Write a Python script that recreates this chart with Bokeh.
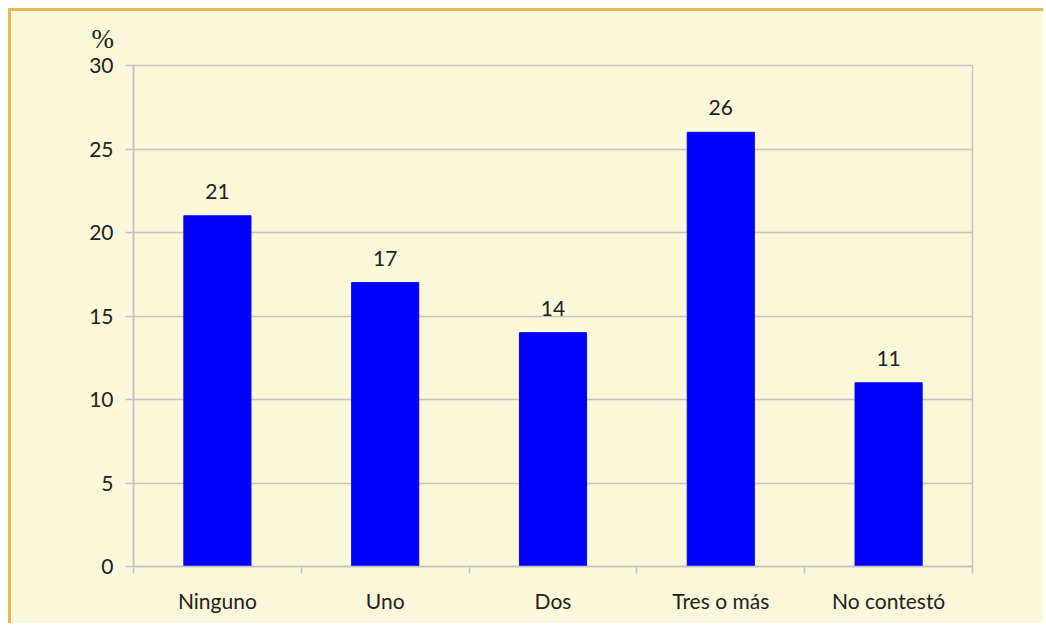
from bokeh.plotting import figure
from bokeh.models import Range1d, FixedTicker, ColumnDataSource, LabelSet
from bokeh.embed import file_html
from bokeh.resources import INLINE
from bokeh.core.properties import value

categories = ["Ninguno", "Uno", "Dos", "Tres o más", "No contestó"]
values = [21, 17, 14, 26, 11]
y_ticks = [0, 5, 10, 15, 20, 25, 30]

BG = "#FBF7D9"
GRID = "#C3C3C3"
ORANGE = "#EBB94A"
FONT = "Lato"
W, H = 1035, 615

xpos = [i + 0.5 for i in range(len(categories))]
src = ColumnDataSource(dict(x=xpos, top=values, lab=[str(v) for v in values]))

p = figure(width=W, height=H, output_backend="svg", toolbar_location=None,
           x_range=Range1d(0, len(categories)), y_range=Range1d(0, 30),
           min_border_left=122, min_border_top=54, min_border_right=74, min_border_bottom=60)
p.styles = {"margin-left": "8px", "margin-top": "8px",
            "border-top": f"3px solid {ORANGE}", "border-left": f"3px solid {ORANGE}"}
p.background_fill_color = BG
p.border_fill_color = BG
p.outline_line_color = GRID
p.outline_line_width = 1.5

p.vbar(x="x", top="top", width=0.4, color="#0000FF", source=src)

p.add_layout(LabelSet(x="x", y="top", text="lab", source=src, text_align="center",
                      text_baseline="bottom", y_offset=17, text_font=value(FONT),
                      text_font_size="21px", text_color="#222222"))

# title used for the "%" unit marker
p.title.text = "%"
p.title.align = "left"
p.title.vertical_align = "top"
p.title.offset = -42
p.title.text_font = "Liberation Serif"
p.title.text_font_size = "27px"
p.title.text_font_style = "normal"
p.title.text_color = "#222222"
p.title.standoff = 20

# y axis
p.yaxis.ticker = FixedTicker(ticks=y_ticks)
p.yaxis.axis_line_color = GRID
p.yaxis.axis_line_width = 1.5
p.yaxis.major_tick_line_color = GRID
p.yaxis.major_tick_line_width = 1.5
p.yaxis.major_tick_in = 0
p.yaxis.major_tick_out = 8
p.yaxis.minor_tick_line_color = None
p.yaxis.major_label_text_font = FONT
p.yaxis.major_label_text_font_size = "21px"
p.yaxis.major_label_text_color = "#222222"
p.yaxis.major_label_standoff = 12

# x axis
p.xaxis.ticker = FixedTicker(ticks=xpos, minor_ticks=list(range(len(categories) + 1)))
p.xaxis.major_label_overrides = {x: c for x, c in zip(xpos, categories)}
p.xaxis.axis_line_color = GRID
p.xaxis.axis_line_width = 1.5
p.xaxis.major_tick_line_color = None
p.xaxis.major_tick_in = 0
p.xaxis.major_tick_out = 0
p.xaxis.minor_tick_line_color = GRID
p.xaxis.minor_tick_line_width = 1.5
p.xaxis.minor_tick_in = 0
p.xaxis.minor_tick_out = 7
p.xaxis.major_label_text_font = FONT
p.xaxis.major_label_text_font_size = "21px"
p.xaxis.major_label_text_color = "#222222"
p.xaxis.major_label_standoff = 14

p.xgrid.grid_line_color = None
p.ygrid.ticker = FixedTicker(ticks=y_ticks)
p.ygrid.grid_line_color = GRID
p.ygrid.grid_line_width = 1.5

open("out.html", "w").write(file_html(p, INLINE))
